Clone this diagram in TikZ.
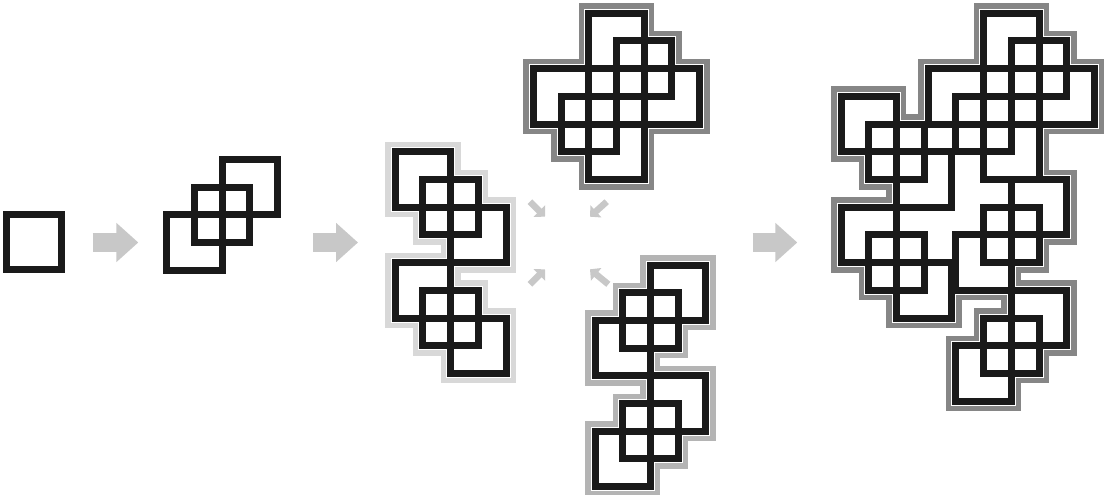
\documentclass[tikz,border=0pt]{standalone}
\usepackage{tikz}
\usetikzlibrary{arrows.meta}
\definecolor{ink}{HTML}{1A1A1A}
\definecolor{flow}{HTML}{C8C8C8}
\definecolor{rimA}{HTML}{D8D8D8}
\definecolor{rimB}{HTML}{B4B4B4}
\definecolor{rimC}{HTML}{868686}
\newcommand\tilegroup[4][0/0/0/0]{%
  \begin{scope}[shift={(#2)},x=27.7pt,y=-27.7pt]
    \foreach \a/\b in {#4} \draw[rim,draw=#3] (\a,\b) rectangle ++(2,2);
    \foreach \ha/\hb/\hc/\hd in {#1} \fill[white] (\ha,\hb) rectangle (\hc,\hd);
    \foreach \a/\b in {#4} \filldraw[gap] (\a,\b) rectangle ++(2,2);
    \foreach \a/\b in {#4} \draw[tile] (\a,\b) rectangle ++(2,2);
  \end{scope}}

\begin{document}
\begin{tikzpicture}[x=1pt,y=-1pt,
  tile/.style={draw=ink,line width=7pt},
  gap/.style={fill=white,draw=white,line width=9pt},
  rim/.style={line width=20pt},
  bigflow/.style={draw=flow,line width=18.4pt,-{Triangle[length=22pt,width=38pt]}},
  smallflow/.style={draw=flow,line width=6.5pt,-{Triangle[length=8pt,width=16pt]}}]
\useasboundingbox (0,0) rectangle (1106,495);
\coordinate (one) at (6.2,214.2);
\coordinate (three) at (166.8,159.5);
\coordinate (chain) at (395.2,151.8);
\coordinate (cross) at (533.3,13.3);
\coordinate (mirror) at (595,265);
\coordinate (whole) at (841,13.3);

\tilegroup{one}{none}{0/0}
\tilegroup{three}{none}{0/2,1/1,2/0}
\tilegroup{chain}{rimA}{0/0,1/1,2/2,0/4,1/5,2/6}
\tilegroup[2/2/3/3,3/3/4/4]{cross}{rimC}{2/0,3/1,4/2,0/2,1/3,2/4}
\tilegroup{mirror}{rimB}{2/0,1/1,0/2,2/4,1/5,0/6}
\tilegroup[5.15/2/6.15/3,6.15/3/7.15/4,3/4/4.15/5,4/5/5.15/7,
  5.15/6/6.15/7,2/7/5.15/8,3/8/4.15/9]{whole}{rimC}{0/3,1/4,2/5,0/7,1/8,2/9,
  5.15/0,6.15/1,7.15/2,3.15/2,4.15/3,5.15/4,
  6.15/6,5.15/7,4.15/8,6.15/10,5.15/11,4.15/12}

\coordinate (s1) at (92.7,242.5);  \coordinate (e1) at (138.3,242.5);
\coordinate (s2) at (313,242.5);   \coordinate (e2) at (358,242.5);
\coordinate (s3) at (752.7,242.5); \coordinate (e3) at (797.3,242.5);
\draw[bigflow] (s1) -- (e1);
\draw[bigflow] (s2) -- (e2);
\draw[bigflow] (s3) -- (e3);

\coordinate (tl) at (530,201.7);   \coordinate (tlh) at (545,216.7);
\coordinate (tr) at (606.7,201.7); \coordinate (trh) at (590,216.7);
\coordinate (bl) at (530,284.3);   \coordinate (blh) at (545,269.3);
\coordinate (br) at (608.3,284.3); \coordinate (brh) at (590,269.3);
\draw[smallflow] (tl) -- (tlh);
\draw[smallflow] (tr) -- (trh);
\draw[smallflow] (bl) -- (blh);
\draw[smallflow] (br) -- (brh);
\end{tikzpicture}
\end{document}
